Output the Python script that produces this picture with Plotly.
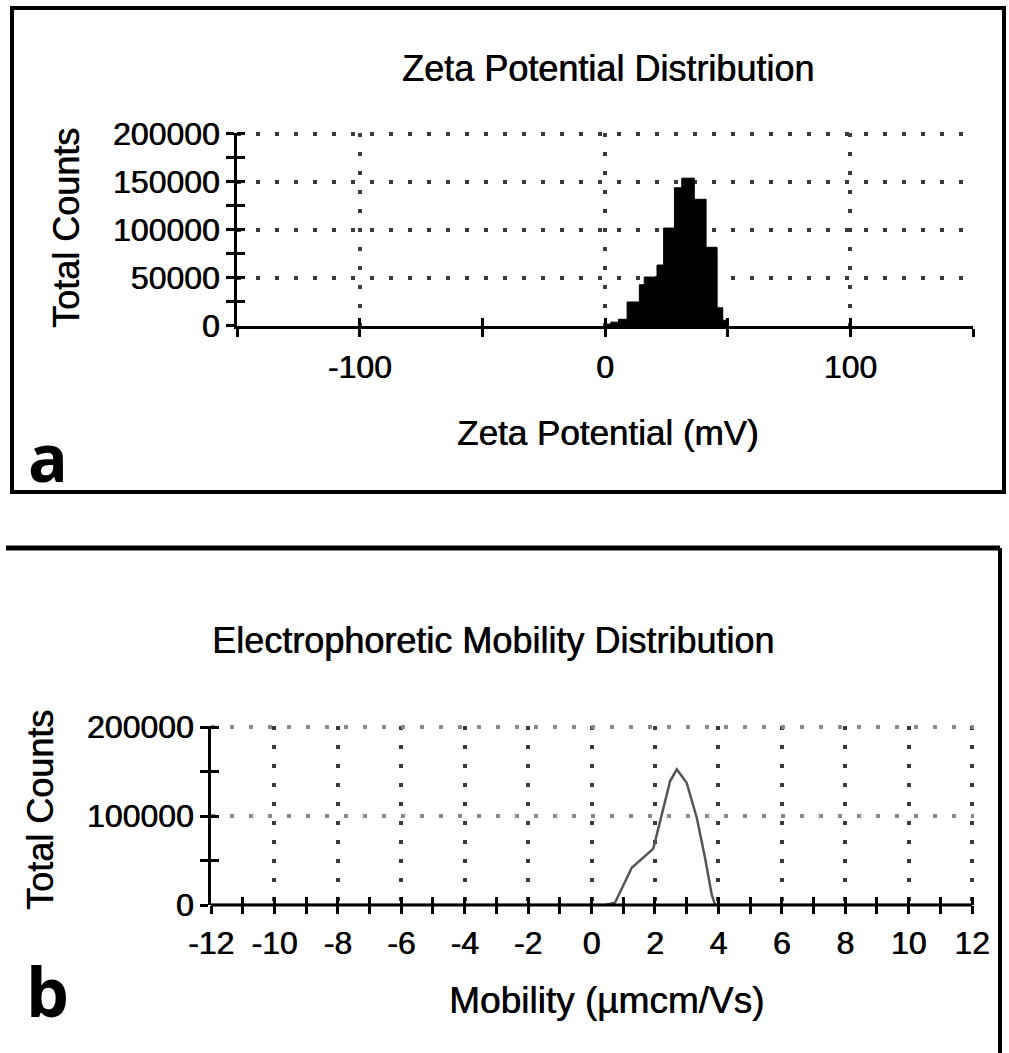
import plotly.graph_objects as go

W, H = 1009, 1053

# ---- data ----
zeta_edges = [0, 2.4, 5.5, 9.0, 14.0, 16.0, 21.2, 23.9, 28.3, 31.3, 36.4, 41.2, 45.7, 48.0, 50.0]
zeta_counts = [2000, 4000, 7000, 25000, 43000, 51000, 63500, 102000, 144000, 154000, 132000, 82000, 19000, 6000, 0]

mob_x = [-12, 0.43, 0.74, 1.27, 1.95, 2.21, 2.48, 2.69, 3.0, 3.32, 3.58, 3.79, 3.9, 12]
mob_counts = [0, 0, 2600, 41900, 63300, 101900, 139300, 152500, 137400, 98100, 53100, 12000, 0, 0]

zeta_tickvals = [-100, 0, 100]
zeta_ticktext = ["-100", "0", "100"]
zeta_all_ticks = [-150, -100, -50, 0, 50, 100, 150]

count_a_tickvals = [0, 50000, 100000, 150000, 200000]
count_a_ticktext = ["0", "50000", "100000", "150000", "200000"]
count_a_all_ticks = [0, 25000, 50000, 75000, 100000, 125000, 150000, 175000, 200000]

mob_tickvals = [-12, -10, -8, -6, -4, -2, 0, 2, 4, 6, 8, 10, 12]
mob_ticktext = ["-12", "-10", "-8", "-6", "-4", "-2", "0", "2", "4", "6", "8", "10", "12"]
mob_all_ticks = list(range(-12, 13))

count_b_tickvals = [0, 100000, 200000]
count_b_ticktext = ["0", "100000", "200000"]
count_b_all_ticks = [0, 50000, 100000, 150000, 200000]

FONT = "Liberation Sans, Arial, sans-serif"
SHADOW = "0.6px 0 0 #000"


def px(x):
    return x / W


def py(y):
    return 1 - y / H


GRID = dict(showgrid=True, gridcolor="#3a3a3a", gridwidth=4, griddash="4px,15px")
LINE = dict(showline=True, linecolor="black", linewidth=3, zeroline=False)
TICK = dict(ticks="outside", ticklen=8, tickwidth=3, tickcolor="black")
TFONT = dict(family=FONT, size=32, color="black", shadow=SHADOW)
OVER = dict(ticks="inside", ticklen=8, tickwidth=3, tickcolor="black",
            showticklabels=False, showgrid=False, showline=False,
            zeroline=False, automargin=False)

YTOP = 201200   # tiny headroom so the 200000 grid row is drawn
XB_RIGHT = 12.06

fig = go.Figure()

fig.add_trace(go.Scatter(
    x=zeta_edges, y=zeta_counts, mode="lines",
    line=dict(shape="hv", color="black", width=1),
    fill="tozeroy", fillcolor="black",
    xaxis="x", yaxis="y", showlegend=False, hoverinfo="skip"))

fig.add_trace(go.Scatter(
    x=mob_x, y=mob_counts, mode="lines",
    line=dict(color="#555555", width=2.5),
    xaxis="x2", yaxis="y2", showlegend=False, hoverinfo="skip"))

fig.add_trace(go.Scatter(x=[], y=[], xaxis="x3", yaxis="y3", showlegend=False))
fig.add_trace(go.Scatter(x=[], y=[], xaxis="x4", yaxis="y4", showlegend=False))

# panel a domains (pixel positions of axes)
a_y0, a_y200k = 326, 134
a_top = a_y0 - (a_y0 - a_y200k) * YTOP / 200000
xa_dom = [px(237), px(973)]
ya_dom = [py(a_y0), py(a_top)]
# panel b domains
b_y0, b_y200k = 905, 727
b_top = b_y0 - (b_y0 - b_y200k) * YTOP / 200000
b_x0, b_x12 = 211, 972
b_right = b_x0 + (b_x12 - b_x0) * (XB_RIGHT + 12) / 24
xb_dom = [px(b_x0), px(b_right)]
yb_dom = [py(b_y0), py(b_top)]

fig.update_layout(
    width=W, height=H, autosize=False,
    margin=dict(l=0, r=0, t=0, b=0, pad=0),
    paper_bgcolor="white", plot_bgcolor="white",
    showlegend=False,
    xaxis=dict(domain=xa_dom, anchor="y", range=[-150, 150], automargin=False,
               tickvals=zeta_tickvals, ticktext=zeta_ticktext,
               tickfont=TFONT, ticklabelstandoff=3,
               minor=dict(tickvals=zeta_all_ticks, ticks="outside", ticklen=8,
                          tickwidth=3, tickcolor="black", showgrid=False),
               **GRID, **LINE, **TICK),
    yaxis=dict(domain=ya_dom, anchor="x", range=[0, YTOP], automargin=False,
               tickvals=count_a_tickvals, ticktext=count_a_ticktext,
               tickfont=TFONT, ticklabelstandoff=0,
               minor=dict(tickvals=count_a_all_ticks, ticks="outside", ticklen=8,
                          tickwidth=3, tickcolor="black", showgrid=False),
               **GRID, **LINE, **TICK),
    xaxis3=dict(overlaying="x", anchor="y", range=[-150, 150],
                tickvals=zeta_all_ticks, **OVER),
    yaxis3=dict(overlaying="y", anchor="x", range=[0, YTOP],
                tickvals=count_a_all_ticks, **OVER),
    xaxis2=dict(domain=xb_dom, anchor="y2", range=[-12, XB_RIGHT], automargin=False,
                tickvals=mob_tickvals, ticktext=mob_ticktext,
                tickfont=TFONT, ticklabelstandoff=2,
                minor=dict(tickvals=mob_all_ticks, ticks="outside", ticklen=8,
                           tickwidth=3, tickcolor="black", showgrid=False),
                **GRID, **TICK, zeroline=False, showline=False),
    yaxis2=dict(domain=yb_dom, anchor="x2", range=[0, YTOP], automargin=False,
                tickvals=count_b_tickvals, ticktext=count_b_ticktext,
                tickfont=TFONT, ticklabelstandoff=0,
                minor=dict(tickvals=count_b_all_ticks, ticks="outside", ticklen=8,
                           tickwidth=3, tickcolor="black", showgrid=False),
                showgrid=True, gridcolor="#8a8a8a", gridwidth=4, griddash="4px,15px",
                **LINE, **TICK),
    xaxis4=dict(overlaying="x2", anchor="y2", range=[-12, XB_RIGHT],
                tickvals=mob_all_ticks, **OVER),
    yaxis4=dict(overlaying="y2", anchor="x2", range=[0, YTOP],
                tickvals=count_b_all_ticks, **OVER),
)

# panel b x axis line (ends at 12, not at the small headroom)
fig.add_shape(type="line", xref="paper", yref="paper",
              x0=px(b_x0), x1=px(b_x12), y0=py(b_y0), y1=py(b_y0),
              line=dict(color="black", width=3))

# borders
fig.add_shape(type="rect", xref="paper", yref="paper",
              x0=px(12), x1=px(1004), y0=py(492), y1=py(8),
              line=dict(color="black", width=4))
fig.add_shape(type="line", xref="paper", yref="paper",
              x0=px(6), x1=px(1000), y0=py(548), y1=py(548),
              line=dict(color="black", width=5))
fig.add_shape(type="line", xref="paper", yref="paper",
              x0=px(1000), x1=px(1000), y0=py(548), y1=py(1060),
              line=dict(color="black", width=4))


def label(text, x, y, size=34, angle=0, bold=False, family=FONT, shadow=SHADOW):
    fig.add_annotation(text=text, xref="paper", yref="paper",
                       x=px(x), y=py(y), xanchor="center", yanchor="middle",
                       showarrow=False, textangle=angle,
                       font=dict(family=family, size=size, color="black",
                                 weight="bold" if bold else "normal",
                                 shadow=shadow))


label("Zeta Potential Distribution", 608, 68, size=36)
label("Zeta Potential (mV)", 608, 432, size=35)
label("Total Counts", 67, 228, size=36, angle=-90)
label("a", 48, 456, size=66, bold=True, family="Open Sans, sans-serif", shadow="none")

label("Electrophoretic Mobility Distribution", 493, 640, size=36)
label("Mobility (µmcm/Vs)", 606, 1000, size=37)
label("Total Counts", 40, 810, size=36, angle=-90)
label("b", 47, 990, size=68, bold=True, family="Open Sans, sans-serif", shadow="none")

fig.write_html("out.html", config={"displayModeBar": False},
               post_script="document.body.style.margin='0';document.body.style.overflow='hidden';")
